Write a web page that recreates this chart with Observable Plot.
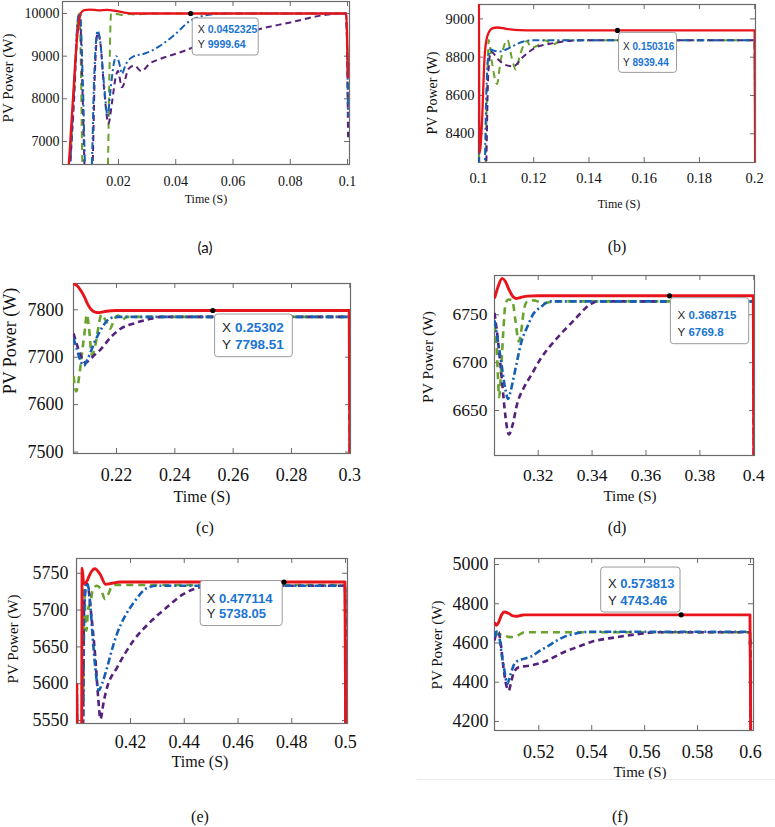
<!DOCTYPE html>
<html>
<head>
<meta charset="utf-8">
<script src="https://cdn.jsdelivr.net/npm/d3@7"></script>
<script src="https://cdn.jsdelivr.net/npm/@observablehq/plot@0.6"></script>
<style>
  html, body { margin: 0; padding: 0; background: #fff; }
  #page { position: relative; width: 775px; height: 827px; overflow: hidden; background: #fff; }
  .lbl { position: absolute; white-space: nowrap; color: #111; transform: translate(-50%, -50%); line-height: 1; }
  .rot { transform: translate(-50%, -50%) rotate(-90deg); }
  .panel { position: absolute; }
  .panel svg text { font-family: 'Liberation Serif', 'Times New Roman', serif; }
  .panel svg g.tip text { font-family: 'Liberation Sans', Arial, sans-serif; }
</style>
</head>
<body>
<div id="page"></div>
<script>
// ---------- data (time in s, PV power in W) ----------
const seriesNames = ["green", "purple", "blue", "red"];

const aRed = [[0.0025,6300],[0.004,7900],[0.0055,9400],[0.0068,10000],[0.008,10080],[0.01,10090],[0.013,10075],[0.016,10085],[0.019,10060],[0.022,10020],[0.026,10000],[0.0995,10000],[0.1002,8480]];
const aGreen = [[0.003,6300],[0.0045,8200],[0.006,9950],[0.0064,10000],[0.0068,9000],[0.0075,6300],[0.0162,6300],[0.0168,8500],[0.0174,10000],[0.02,9980],[0.022,9960],[0.024,9990],[0.026,9975],[0.03,9995],[0.035,10000],[0.0995,10000],[0.1002,8000]];
const aBlue = [[0.003,6300],[0.0045,8300],[0.006,9950],[0.0066,10000],[0.0075,8500],[0.0085,6300],[0.0105,6300],[0.0115,8500],[0.0127,9600],[0.0135,9400],[0.015,8300],[0.0162,7600],[0.0172,8200],[0.0183,8800],[0.0192,9000],[0.0202,8850],[0.0212,8590],[0.0225,8800],[0.0254,9000],[0.0289,9055],[0.0347,9250],[0.0393,9484],[0.0452,9836],[0.05,9950],[0.055,9990],[0.06,10000],[0.0995,10000],[0.1002,7600]];
const aPurple = [[0.003,6300],[0.0045,8000],[0.006,9900],[0.0065,9950],[0.0075,8000],[0.0083,6300],[0.0108,6300],[0.0117,8500],[0.0127,9550],[0.0137,9300],[0.015,8200],[0.0165,7420],[0.0177,7900],[0.019,8500],[0.0198,8650],[0.0212,8270],[0.0235,8700],[0.0255,8780],[0.028,8650],[0.031,8830],[0.0347,8938],[0.0434,9133],[0.0502,9330],[0.0602,9480],[0.07,9650],[0.08,9790],[0.0906,9950],[0.095,9990],[0.0995,10000],[0.1002,7100]];

const bRed = [[0.1,10000],[0.1004,8300],[0.1012,8440],[0.1022,8800],[0.1032,8910],[0.105,8950],[0.1068,8955],[0.11,8948],[0.115,8941],[0.12,8939.4],[0.2,8939.4],[0.2002,8100]];
const bGreen = [[0.1,10000],[0.1003,8100],[0.1022,8100],[0.1032,8700],[0.1037,8890],[0.1048,8780],[0.1067,8660],[0.108,8780],[0.1105,8890],[0.112,8800],[0.1135,8735],[0.115,8810],[0.1175,8885],[0.119,8850],[0.1215,8862],[0.124,8888],[0.127,8866],[0.13,8888],[0.2,8888],[0.2002,8100]];
const bBlue = [[0.1,10000],[0.1003,8100],[0.102,8100],[0.1028,8600],[0.1035,8800],[0.1045,8840],[0.106,8832],[0.108,8830],[0.11,8840],[0.113,8862],[0.1163,8882],[0.12,8888],[0.2,8888],[0.2002,8100]];
const bPurple = [[0.1,10000],[0.1003,8100],[0.1025,8100],[0.1035,8700],[0.1045,8830],[0.107,8790],[0.1097,8760],[0.1126,8752],[0.116,8800],[0.12,8845],[0.126,8870],[0.133,8885],[0.137,8888],[0.2,8888],[0.2002,8100]];

const cRed = [[0.20525,7855],[0.2066,7850],[0.2078,7840],[0.209,7827],[0.2101,7812],[0.2114,7800],[0.2126,7795],[0.214,7794],[0.2165,7797],[0.22,7798.5],[0.2998,7798.5],[0.3001,7400]];
const cGreen = [[0.20525,7660],[0.2062,7628],[0.2072,7660],[0.2082,7710],[0.2092,7760],[0.2098,7790],[0.2106,7760],[0.2115,7705],[0.2125,7718],[0.2137,7760],[0.2148,7790],[0.2165,7775],[0.2178,7760],[0.2192,7780],[0.2205,7788],[0.222,7779],[0.2235,7785],[0.2998,7785],[0.3001,7400]];
const cBlue = [[0.20525,7740],[0.2065,7715],[0.2078,7690],[0.2088,7682],[0.21,7695],[0.2112,7712],[0.2122,7728],[0.2135,7745],[0.2148,7760],[0.2168,7777],[0.219,7784],[0.221,7785],[0.2998,7785],[0.3001,7400]];
const cPurple = [[0.20525,7750],[0.2065,7725],[0.208,7700],[0.2094,7688],[0.2108,7695],[0.2125,7705],[0.2145,7716],[0.218,7742],[0.2214,7760],[0.2259,7771],[0.2317,7781],[0.2351,7785],[0.2998,7785],[0.3001,7400]];

const dRed = [[0.3038,6767],[0.3052,6780],[0.3066,6788],[0.3078,6785],[0.3092,6776],[0.3106,6769],[0.3118,6767],[0.3135,6768],[0.316,6769.5],[0.32,6769.8],[0.3998,6769.8],[0.4001,6550]];
const dGreen = [[0.3038,6740],[0.3045,6720],[0.305,6690],[0.3055,6664],[0.3062,6690],[0.307,6730],[0.3079,6762],[0.309,6766],[0.3104,6765],[0.3115,6745],[0.3128,6722],[0.3138,6735],[0.3147,6755],[0.316,6764],[0.3184,6765],[0.322,6762],[0.326,6764],[0.3998,6764],[0.4001,6550]];
const dBlue = [[0.3038,6744],[0.306,6706],[0.3079,6671],[0.3088,6662],[0.3096,6668],[0.3104,6678],[0.3122,6702],[0.3138,6722],[0.3159,6737],[0.318,6750],[0.3209,6758],[0.3246,6764],[0.3998,6764],[0.4001,6550]];
const dPurple = [[0.3038,6752],[0.3052,6720],[0.3066,6680],[0.3078,6645],[0.3091,6625],[0.3105,6635],[0.3122,6657],[0.3147,6674],[0.3172,6686],[0.3209,6704],[0.3271,6726],[0.3332,6744],[0.3394,6761],[0.3419,6764],[0.3998,6764],[0.4001,6550]];

const eRed = [[0.4,5600],[0.4003,5500],[0.4018,5500],[0.402,5757],[0.4026,5736],[0.4036,5738],[0.4051,5750],[0.4067,5756],[0.4088,5748],[0.4107,5735],[0.4126,5736],[0.4163,5738],[0.4998,5738],[0.5001,5500]];
const eGreen = [[0.4,5600],[0.4003,5500],[0.4022,5500],[0.4027,5730],[0.4031,5700],[0.4036,5672],[0.4042,5700],[0.4052,5712],[0.406,5728],[0.4075,5733],[0.409,5728],[0.4105,5715],[0.4118,5722],[0.413,5732],[0.4145,5734],[0.4998,5734],[0.5001,5500]];
const eBlue = [[0.4,5600],[0.4003,5500],[0.4022,5500],[0.4028,5700],[0.4036,5737],[0.4044,5730],[0.4051,5704],[0.406,5660],[0.4069,5622],[0.4082,5591],[0.4094,5600],[0.4113,5622],[0.413,5645],[0.415,5668],[0.418,5692],[0.4212,5710],[0.4262,5730],[0.4299,5733],[0.4998,5733],[0.5001,5500]];
const ePurple = [[0.4,5600],[0.4003,5500],[0.4021,5500],[0.4027,5700],[0.4036,5736],[0.4044,5728],[0.4051,5704],[0.4069,5636],[0.408,5580],[0.4088,5552],[0.4101,5577],[0.4113,5595],[0.415,5622],[0.4212,5659],[0.4274,5684],[0.4336,5704],[0.4398,5722],[0.446,5731],[0.451,5733],[0.4998,5733],[0.5001,5500]];

const fRed = [[0.50326,4706],[0.504,4690],[0.5048,4705],[0.5058,4740],[0.507,4758],[0.5087,4750],[0.5102,4738],[0.5115,4736],[0.513,4740],[0.5145,4743.5],[0.5998,4743.5],[0.6001,4100]];
const fGreen = [[0.50326,4647],[0.505,4645],[0.507,4640],[0.509,4630],[0.511,4632],[0.513,4645],[0.5145,4655],[0.5998,4655],[0.6001,4100]];
const fBlue = [[0.50326,4630],[0.5038,4655],[0.5045,4660],[0.5052,4620],[0.506,4540],[0.5068,4477],[0.5081,4392],[0.5093,4440],[0.5112,4502],[0.5143,4519],[0.5169,4530],[0.5206,4562],[0.5232,4582],[0.5269,4613],[0.5294,4630],[0.5345,4650],[0.5395,4657],[0.5998,4657],[0.6001,4100]];
const fPurple = [[0.50326,4613],[0.504,4650],[0.5048,4655],[0.5056,4600],[0.5066,4480],[0.5078,4380],[0.5087,4358],[0.5095,4400],[0.5106,4451],[0.5125,4477],[0.5169,4485],[0.5232,4511],[0.5294,4553],[0.5345,4579],[0.5395,4604],[0.5496,4630],[0.5584,4647],[0.5647,4655],[0.5998,4655],[0.6001,4100]];

// tick values
const xTicksA = [0.02, 0.04, 0.06, 0.08, 0.1];
const xTicksB = [0.1, 0.12, 0.14, 0.16, 0.18, 0.2];
const xTicksC = [0.22, 0.24, 0.26, 0.28, 0.3];
const xTicksD = [0.32, 0.34, 0.36, 0.38, 0.4];
const xTicksE = [0.42, 0.44, 0.46, 0.48, 0.5];
const xTicksF = [0.52, 0.54, 0.56, 0.58, 0.6];
const yTicksA = [7000, 8000, 9000, 10000];
const yTicksB = [8400, 8600, 8800, 9000];
const yTicksC = [7500, 7600, 7700, 7800];
const yTicksD = [6650, 6700, 6750];
const yTicksE = [5550, 5600, 5650, 5700, 5750];
const yTicksF = [4200, 4400, 4600, 4800, 5000];

// data tips
const tipX = [0.0452325, 0.150316, 0.25302, 0.368715, 0.477114, 0.573813];
const tipY = [9999.64, 8939.44, 7798.51, 6769.8, 5738.05, 4743.46];

// text
const captions = ["(a)", "(b)", "(c)", "(d)", "(e)", "(f)"];
const xTitle = "Time (S)";
const yTitle = "PV Power (W)";

// ---------- styles ----------
const SERIF = "'Liberation Serif', 'Times New Roman', serif";
const SANS = "'Liberation Sans', Arial, sans-serif";
const style = {
  red:    {stroke: "#e8141c", dash: null},
  green:  {stroke: "#6aa22e", dash: "7,5"},
  blue:   {stroke: "#1560b5", dash: "7,3,2,3"},
  purple: {stroke: "#55217b", dash: "6,4"}
};

// ---------- layout of each panel ----------
const panels = [
  {L:62, R:349, T:1, B:164, xd:[0.00044,0.1007], yd:[6461,10281], xt:xTicksA, yt:yTicksA, data:{red:aRed,green:aGreen,blue:aBlue,purple:aPurple},
   fs:14, xGap:12, yGap:3, lw:2,
   tip:{box:[2,68,5,42], tx:7, c:[15,30], fs:10.5},
   xl:{x:206,y:199,fs:12}, yl:{x:8,y:78,fs:15}, cap:{x:205,y:247,fs:15,ff:"Lato, 'Open Sans', sans-serif"}},
  {L:478, R:755, T:4, B:162, xd:[0.1,0.2003], yd:[8250,9075], xt:xTicksB, yt:yTicksB, data:{red:bRed,green:bGreen,blue:bBlue,purple:bPurple},
   fs:14.5, xGap:10, yGap:4, lw:2,
   tip:{box:[1.6,59.6,2.4,42.4], tx:5.6, c:[14,30.7], fs:10},
   xl:{x:619,y:204,fs:12}, yl:{x:433,y:93,fs:14}, cap:{x:617,y:247,fs:16}},
  {L:73, R:350, T:283, B:453, xd:[0.20525,0.30024], yd:[7497,7855.4], xt:xTicksC, yt:yTicksC, data:{red:cRed,green:cGreen,blue:cBlue,purple:cPurple},
   fs:18, xGap:15, yGap:10, lw:2.6,
   tip:{box:[2.3,80,4,46.7], tx:9.3, c:[16.4,33], fs:13.5},
   xl:{x:202,y:497,fs:16}, yl:{x:10,y:341,fs:18}, cap:{x:205,y:528,fs:16}},
  {L:494, R:754, T:275, B:455, xd:[0.30379,0.40026], yd:[6603,6791], xt:xTicksD, yt:yTicksD, data:{red:dRed,green:dGreen,blue:dBlue,purple:dPurple},
   fs:17.5, xGap:13, yGap:7, lw:2.6,
   tip:{box:[1.4,79.7,2.4,48.4], tx:8, c:[17.4,35], fs:11.5},
   xl:{x:630,y:496,fs:15}, yl:{x:428,y:357,fs:15.5}, cap:{x:617,y:528,fs:16}},
  {L:76, R:347, T:558, B:723, xd:[0.39991,0.50074], yd:[5546,5770], xt:xTicksE, yt:yTicksE, data:{red:eRed,green:eGreen,blue:eBlue,purple:ePurple},
   fs:18, xGap:12, yGap:8, lw:2.6,
   tip:{box:[-83.3,-1.3,-1,44], tx:-77.3, c:[15.7,30.7], fs:13},
   xl:{x:200,y:762,fs:16}, yl:{x:13,y:639,fs:15}, cap:{x:200,y:817,fs:16}},
  {L:494, R:753, T:558, B:730, xd:[0.50326,0.60113], yd:[4154,5030.6], xt:xTicksF, yt:yTicksF, data:{red:fRed,green:fGreen,blue:fBlue,purple:fPurple},
   fs:18, xGap:15, yGap:6, lw:2.6,
   tip:{box:[-80,-0.7,-47.3,-2.3], tx:-73.3, c:[-31.7,-15], fs:13},
   xl:{x:640,y:772,fs:15}, yl:{x:437,y:645,fs:15}, cap:{x:620,y:817,fs:16}}
];

const page = document.getElementById("page");
function addLabel(text, x, y, fs, ff, rotate) {
  const d = document.createElement("div");
  d.className = "lbl" + (rotate ? " rot" : "");
  d.textContent = text;
  d.style.left = x + "px";
  d.style.top = y + "px";
  d.style.fontSize = fs + "px";
  d.style.fontFamily = ff || SERIF;
  page.appendChild(d);
}

const mL = 70, mR = 12, mT = 10, mB = 34;
panels.forEach((p, i) => {
  const W = p.R - p.L, H = p.B - p.T;
  const tip = {x: tipX[i], y: tipY[i], xs: String(tipX[i]), ys: String(tipY[i])};
  const lines = seriesNames.map(name => Plot.line(p.data[name], {
    x: d => d[0], y: d => d[1], clip: true, curve: "monotone-x",
    stroke: style[name].stroke, strokeWidth: name === "red" ? p.lw + 0.3 : p.lw,
    strokeDasharray: style[name].dash, strokeLinecap: "butt", strokeLinejoin: "round"
  }));
  const tk = {stroke: "#6b6b6b", strokeWidth: 1};
  const tipText = {x: "x", y: "y", textAnchor: "start", lineAnchor: "middle",
    dy: (p.tip.c[0] + p.tip.c[1]) / 2, lineHeight: (p.tip.c[1] - p.tip.c[0]) / p.tip.fs,
    fontSize: p.tip.fs, fontFamily: SANS, className: "tip"};
  const chart = Plot.plot({
    width: W + mL + mR, height: H + mT + mB,
    marginLeft: mL, marginRight: mR, marginTop: mT, marginBottom: mB,
    x: {domain: p.xd, label: null},
    y: {domain: p.yd, label: null},
    style: {fontFamily: SERIF, fontSize: p.fs + "px", color: "#111", background: "transparent", overflow: "visible"},
    marks: [
      Plot.axisX({ticks: p.xt, anchor: "bottom", tickSize: 0, tickPadding: p.xGap, tickFormat: d => String(d), label: null, fontSize: p.fs, fontFamily: SERIF}),
      Plot.axisY({ticks: p.yt, anchor: "left", tickSize: 0, tickPadding: p.yGap, tickFormat: d => String(d), label: null, fontSize: p.fs, fontFamily: SERIF}),
      Plot.tickX(p.xt, {x: d => d, insetTop: H - 5, ...tk}),
      Plot.tickX(p.xt, {x: d => d, insetBottom: H - 5, ...tk}),
      Plot.tickY(p.yt, {y: d => d, insetRight: W - 5, ...tk}),
      Plot.tickY(p.yt, {y: d => d, insetLeft: W - 5, ...tk}),
      Plot.frame({stroke: "#6b6b6b", strokeWidth: 1.2}),
      ...lines,
      Plot.rect([tip], {x1: "x", x2: "x", y1: "y", y2: "y",
        insetLeft: p.tip.box[0], insetRight: -p.tip.box[1], insetTop: p.tip.box[2], insetBottom: -p.tip.box[3],
        fill: "#ffffff", stroke: "#9a9a9a", strokeWidth: 1, rx: 3}),
      Plot.dot([tip], {x: "x", y: "y", r: 2.6, fill: "#000", stroke: "none"}),
      Plot.text([tip], {...tipText, text: d => "X\nY", dx: p.tip.tx, fill: "#262626"}),
      Plot.text([tip], {...tipText, text: d => d.xs + "\n" + d.ys, dx: p.tip.tx + 0.95 * p.tip.fs, fontWeight: "bold", fill: "#1a74d2"})
    ]
  });
  const wrap = document.createElement("div");
  wrap.className = "panel";
  wrap.style.left = (p.L - mL) + "px";
  wrap.style.top = (p.T - mT) + "px";
  wrap.appendChild(chart);
  page.appendChild(wrap);
  // tip text uses sans-serif
  chart.querySelectorAll("g.tip text, g.tip").forEach(el => el.style.fontFamily = SANS);

  addLabel(xTitle, p.xl.x, p.xl.y, p.xl.fs);
  addLabel(yTitle, p.yl.x, p.yl.y, p.yl.fs, null, true);
  addLabel(captions[i], p.cap.x, p.cap.y, p.cap.fs, p.cap.ff);
});

// faint separator line under panel (f)
const sep = document.createElement("div");
sep.style.cssText = "position:absolute;left:417px;top:779px;width:358px;height:1px;background:#ececec;";
page.appendChild(sep);
</script>
</body>
</html>
